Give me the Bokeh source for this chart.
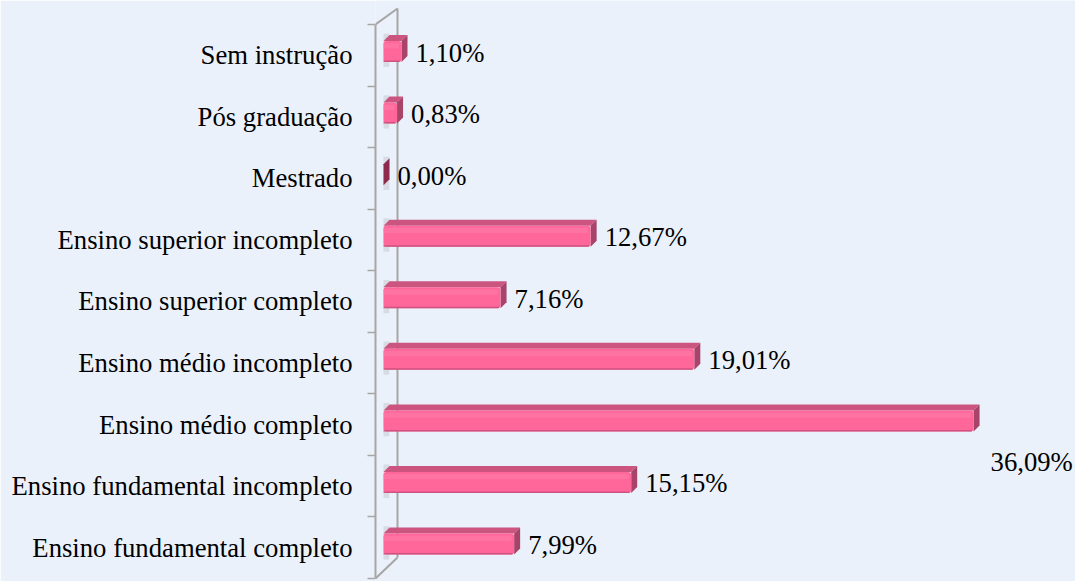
from bokeh.plotting import figure
from bokeh.models import Range1d, LinearAxis, FixedTicker, ColumnDataSource
from bokeh.core.properties import value
from bokeh.embed import file_html
from bokeh.resources import INLINE

# ---- data (bottom to top) ----
categories = ["Ensino fundamental completo", "Ensino fundamental incompleto",
              "Ensino médio completo", "Ensino médio incompleto",
              "Ensino superior completo", "Ensino superior incompleto",
              "Mestrado", "Pós graduação", "Sem instrução"]
percentages = [7.99, 15.15, 36.09, 19.01, 7.16, 12.67, 0.00, 0.83, 1.10]
value_labels = ["7,99%", "15,15%", "36,09%", "19,01%", "7,16%", "12,67%",
                "0,00%", "0,83%", "1,10%"]

# ---- geometry (pixels -> data units) ----
PX = 16.35   # px per percent
PY = 61.56   # px per category
n = len(categories)
idx = list(range(n))
shift = 0.06
half_h = 0.341 / 2
dx = 6 / PX
dy = 6 / PY

W, H = 1075, 581
LEFT = 375

BG = "#EBF1FB"
FRONT = "#FF6699"
TOP = "#CC5580"
SIDE = "#A8446A"
WALL = "#A6A6A6"
FONT = "Liberation Serif"
FS = "26.7px"

x0 = -8 / PX
y0 = -0.5 - 3 / PY
p = figure(width=W, height=H, output_backend="svg", toolbar_location=None,
           x_range=Range1d(x0, x0 + (W - LEFT) / PX),
           y_range=Range1d(y0, y0 + H / PY),
           x_axis_location=None, y_axis_location=None,
           min_border_left=LEFT, min_border_right=0, min_border_top=0, min_border_bottom=0,
           background_fill_color=BG, border_fill_color=BG)
p.outline_line_color = None
p.grid.visible = False

# ---- category axis ----
ax = LinearAxis(ticker=FixedTicker(ticks=idx, minor_ticks=[i - 0.5 for i in range(n + 1)]),
                major_label_overrides={i: c for i, c in enumerate(categories)},
                bounds=(-0.5, n - 0.5))
ax.axis_line_color = WALL
ax.axis_line_width = 2
ax.major_tick_line_color = None
ax.major_tick_out = 0
ax.major_tick_in = 0
ax.minor_tick_line_color = WALL
ax.minor_tick_line_width = 1.5
ax.minor_tick_out = 8
ax.minor_tick_in = 0
ax.major_label_standoff = 15
ax.major_label_text_font = FONT
ax.major_label_text_font_size = FS
ax.major_label_text_color = "#000000"
p.add_layout(ax, "left")

# ---- back wall lines ----
xb = 14 / PX
xf = -8 / PX
top_y = n - 0.5 + 16 / PY
bot_y = -0.5 + 21 / PY
p.segment(x0=[xb, xf, xf], y0=[bot_y, n - 0.5, -0.5],
          x1=[xb, xb, xb], y1=[top_y, top_y, bot_y],
          line_color=WALL, line_width=2)

# ---- bars ----
yc = [i + shift for i in idx]
yb = [y - half_h for y in yc]
yt = [y + half_h for y in yc]

# faint shadow on wall
p.quad(left=[0] * n, right=[0.35] * n, bottom=[b - 0.08 for b in yb],
       top=[t + 0.12 for t in yt], fill_color="#7F7F7F", fill_alpha=0.18, line_color=None)

top_xs = [[0, v, v + dx, dx] for v in percentages]
top_ys = [[t, t, t + dy, t + dy] for t in yt]
p.patches(xs=top_xs, ys=top_ys, fill_color=TOP, line_color=None)

side_xs = [[v, v + dx, v + dx, v] for v in percentages]
side_ys = [[b, b + dy, t + dy, t] for b, t in zip(yb, yt)]
side_cols = [SIDE if v > 0 else "#8E2A4C" for v in percentages]
p.patches(xs=side_xs, ys=side_ys, fill_color=side_cols, line_color=None)

p.hbar(y=yc, left=0, right=percentages, height=2 * half_h, fill_color=FRONT,
       line_color=None, border_radius=3)
# subtle highlight and lower shade
p.hbar(y=[y + half_h * 0.55 for y in yc], left=0, right=[max(v - 0.15, 0) for v in percentages],
       height=half_h * 0.5, fill_color="#FF86AE", fill_alpha=0.4, line_color=None)
p.hbar(y=[b + 0.012 for b in yb], left=0, right=[max(v - 0.1, 0) for v in percentages],
       height=0.024, fill_color="#C24E78", fill_alpha=0.8, line_color=None)

# ---- value labels ----
vmax = max(percentages)
xo = [17 if v == vmax else 14 for v in percentages]
yo = [41 if v == vmax else 1 for v in percentages]
src = ColumnDataSource(dict(x=percentages, y=yc, t=value_labels, xo=xo, yo=yo))
p.text(x="x", y="y", text="t", x_offset="xo", y_offset="yo", source=src,
       text_font=value(FONT), text_font_size=FS, text_color="#000000",
       text_align="left", text_baseline="middle")

open("out.html", "w").write(file_html(p, INLINE))
